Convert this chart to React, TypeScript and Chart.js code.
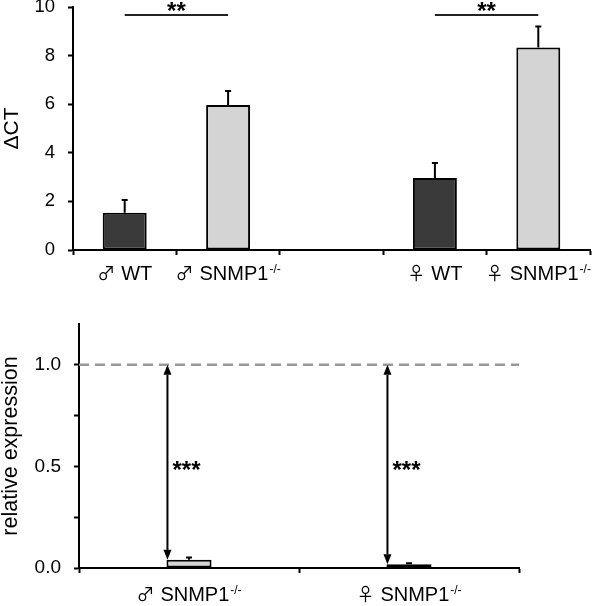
import { useEffect, useRef } from 'react';
import { Chart, registerables } from 'chart.js';

Chart.register(...registerables);

const FONT = "'Liberation Sans', Arial, sans-serif";
const SYMBOL_FONT = "'Noto Sans CJK SC', 'DejaVu Sans', sans-serif";

// ---- Top chart data (ΔCT) ----
const topCategories = ['♂ WT', '♂ SNMP1-/-', '', '♀ WT', '♀ SNMP1-/-'];
const topSymbols = ['♂', '♂', '', '♀', '♀'];
const topNames = ['WT', 'SNMP1', '', 'WT', 'SNMP1'];
const topSuperscripts = ['', '-/-', '', '', '-/-'];
const deltaCt = [1.53, 5.97, null, 2.96, 8.33];
const deltaCtErr = [0.53, 0.57, null, 0.62, 0.87];
const topBarColors = ['#3a3a3a', '#d4d4d4', '#d4d4d4', '#3a3a3a', '#d4d4d4'];
const topYTicks = [0, 2, 4, 6, 8, 10];
const topSigFrom = [0, 3];
const topSigTo = [1, 4];
const topSigLevel = [9.67, 9.67];
const topSigLabel = ['**', '**'];

// ---- Bottom chart data (relative expression) ----
const bottomCategories = ['♂ SNMP1-/-', '♀ SNMP1-/-'];
const bottomSymbols = ['♂', '♀'];
const bottomNames = ['SNMP1', 'SNMP1'];
const bottomSuperscripts = ['-/-', '-/-'];
const relExpression = [0.04, 0.018];
const relExpressionErr = [0.012, 0.005];
const bottomYTicks = [0, 0.25, 0.5, 0.75, 1.0];
const bottomYLabels = ['0.0', '', '0.5', '', '1.0'];
const referenceLevel = 1.0;
const bottomSigLabel = ['***', '***'];
const bottomSigLevel = [0.51, 0.51];

function drawXLabels(chart: any, symbols: string[], names: string[], sups: string[], offset: number) {
  const ctx = chart.ctx;
  const x = chart.scales.x;
  ctx.save();
  ctx.fillStyle = '#000';
  ctx.textBaseline = 'alphabetic';
  ctx.textAlign = 'left';
  names.forEach((name, i) => {
    if (!name) return;
    const cx = x.getPixelForValue(i);
    const symFont = `18px ${SYMBOL_FONT}`;
    const nameFont = `20px ${FONT}`;
    const supFont = `12px ${FONT}`;
    ctx.font = symFont;
    const ws = ctx.measureText(symbols[i]).width;
    const gap = 6;
    ctx.font = nameFont;
    const wn = ctx.measureText(name).width;
    ctx.font = supFont;
    const wp = sups[i] ? ctx.measureText(sups[i]).width + 1 : 0;
    const start = cx - (ws + gap + wn + wp) / 2;
    const base = chart.chartArea.bottom + offset;
    ctx.font = symFont;
    ctx.fillText(symbols[i], start, base);
    ctx.font = nameFont;
    ctx.fillText(name, start + ws + gap, base);
    if (sups[i]) {
      ctx.font = supFont;
      ctx.fillText(sups[i], start + ws + gap + wn + 1, base - 7);
    }
  });
  ctx.restore();
}

function drawErrorBars(chart: any, values: (number | null)[], errs: (number | null)[]) {
  const ctx = chart.ctx;
  const y = chart.scales.y;
  const meta = chart.getDatasetMeta(0);
  ctx.save();
  ctx.strokeStyle = '#000';
  ctx.lineWidth = 2;
  meta.data.forEach((bar: any, i: number) => {
    const v = values[i];
    const e = errs[i];
    if (v == null || e == null) return;
    const top = y.getPixelForValue(v);
    const et = y.getPixelForValue(v + e);
    ctx.beginPath();
    ctx.moveTo(bar.x, top);
    ctx.lineTo(bar.x, et);
    ctx.moveTo(bar.x - 3, et);
    ctx.lineTo(bar.x + 3, et);
    ctx.stroke();
  });
  ctx.restore();
}

const axisCommon = {
  border: { display: true, color: '#000', width: 2 },
  grid: {
    drawOnChartArea: false,
    drawTicks: true,
    tickLength: 5,
    tickColor: '#000',
    tickWidth: 2,
    color: '#000',
  },
};

export default function App() {
  const topRef = useRef<HTMLCanvasElement>(null);
  const bottomRef = useRef<HTMLCanvasElement>(null);

  useEffect(() => {
    const topPlugin = {
      id: 'topAnno',
      afterDatasetsDraw(chart: any) {
        drawErrorBars(chart, deltaCt, deltaCtErr);
        const ctx = chart.ctx;
        const x = chart.scales.x;
        const y = chart.scales.y;
        ctx.save();
        ctx.strokeStyle = '#222';
        ctx.lineWidth = 2;
        ctx.fillStyle = '#000';
        topSigFrom.forEach((f, k) => {
          const x1 = x.getPixelForValue(f);
          const x2 = x.getPixelForValue(topSigTo[k]);
          const yy = y.getPixelForValue(topSigLevel[k]);
          ctx.beginPath();
          ctx.moveTo(x1, yy);
          ctx.lineTo(x2, yy);
          ctx.stroke();
          ctx.font = `bold 24px ${FONT}`;
          ctx.textAlign = 'center';
          ctx.textBaseline = 'alphabetic';
          ctx.fillText(topSigLabel[k], (x1 + x2) / 2, yy + 4);
        });
        ctx.restore();
      },
      afterDraw(chart: any) {
        drawXLabels(chart, topSymbols, topNames, topSuperscripts, 30);
      },
    };

    const topChart = new Chart(topRef.current!, {
      type: 'bar',
      data: {
        labels: topCategories,
        datasets: [
          {
            data: deltaCt as any,
            backgroundColor: topBarColors,
            borderColor: '#000',
            borderWidth: 2,
            borderSkipped: false,
            barPercentage: 0.425,
            categoryPercentage: 1,
          },
        ],
      },
      options: {
        animation: false,
        responsive: false,
        maintainAspectRatio: false,
        layout: { padding: { top: 7, right: 6, left: 0, bottom: 0 } },
        plugins: { legend: { display: false }, tooltip: { enabled: false } },
        scales: {
          x: {
            ...axisCommon,
            ticks: { display: false },
            afterFit(scale: any) {
              scale.height = 40;
              scale.paddingLeft = 0;
              scale.paddingRight = 0;
            },
          },
          y: {
            ...axisCommon,
            min: 0,
            max: 10,
            afterBuildTicks(scale: any) {
              scale.ticks = topYTicks.map((v) => ({ value: v }));
            },
            ticks: {
              color: '#000',
              padding: 13,
              font: { family: FONT, size: 18.5 },
              callback: (v: any) => String(v),
            },
            title: {
              display: true,
              text: 'ΔCT',
              color: '#000',
              font: { family: FONT, size: 21 },
              padding: { top: 0, bottom: 0 },
            },
            afterFit(scale: any) {
              scale.width = 73;
              scale.paddingTop = 0;
              scale.paddingBottom = 0;
            },
          },
        },
      },
      plugins: [topPlugin],
    } as any);

    const bottomPlugin = {
      id: 'bottomAnno',
      beforeDatasetsDraw(chart: any) {
        const ctx = chart.ctx;
        const y = chart.scales.y;
        const yy = y.getPixelForValue(referenceLevel);
        ctx.save();
        ctx.strokeStyle = '#999';
        ctx.lineWidth = 2.5;
        ctx.setLineDash([10, 6]);
        ctx.beginPath();
        ctx.moveTo(chart.chartArea.left, yy);
        ctx.lineTo(chart.chartArea.right, yy);
        ctx.stroke();
        ctx.restore();
      },
      afterDatasetsDraw(chart: any) {
        drawErrorBars(chart, relExpression, relExpressionErr);
        const ctx = chart.ctx;
        const y = chart.scales.y;
        const meta = chart.getDatasetMeta(0);
        ctx.save();
        ctx.strokeStyle = '#000';
        ctx.fillStyle = '#000';
        ctx.lineWidth = 2;
        meta.data.forEach((bar: any, i: number) => {
          const ax = bar.x - bar.width / 2 + 1;
          const yTop = y.getPixelForValue(referenceLevel);
          const yBot = y.getPixelForValue(relExpression[i]);
          const hl = 10;
          const hw = 4;
          ctx.beginPath();
          ctx.moveTo(ax, yTop + hl);
          ctx.lineTo(ax, yBot - hl);
          ctx.stroke();
          ctx.beginPath();
          ctx.moveTo(ax, yTop);
          ctx.lineTo(ax - hw, yTop + hl);
          ctx.lineTo(ax + hw, yTop + hl);
          ctx.closePath();
          ctx.fill();
          ctx.beginPath();
          ctx.moveTo(ax, yBot);
          ctx.lineTo(ax - hw, yBot - hl);
          ctx.lineTo(ax + hw, yBot - hl);
          ctx.closePath();
          ctx.fill();
          ctx.font = `bold 24px ${FONT}`;
          ctx.textAlign = 'left';
          ctx.textBaseline = 'alphabetic';
          const ty = y.getPixelForValue(bottomSigLevel[i]);
          ctx.fillText(bottomSigLabel[i], ax + 5, ty + 14);
        });
        ctx.restore();
      },
      afterDraw(chart: any) {
        drawXLabels(chart, bottomSymbols, bottomNames, bottomSuperscripts, 33);
      },
    };

    const bottomChart = new Chart(bottomRef.current!, {
      type: 'bar',
      data: {
        labels: bottomCategories,
        datasets: [
          {
            data: relExpression,
            backgroundColor: '#d4d4d4',
            borderColor: '#000',
            borderWidth: 2,
            borderSkipped: false,
            barPercentage: 0.205,
            categoryPercentage: 1,
          },
        ],
      },
      options: {
        animation: false,
        responsive: false,
        maintainAspectRatio: false,
        layout: { padding: { top: 34, right: 77, left: 0, bottom: 0 } },
        plugins: { legend: { display: false }, tooltip: { enabled: false } },
        scales: {
          x: {
            ...axisCommon,
            ticks: { display: false },
            afterFit(scale: any) {
              scale.height = 38;
              scale.paddingLeft = 0;
              scale.paddingRight = 0;
            },
          },
          y: {
            ...axisCommon,
            min: 0,
            max: 1.2,
            afterBuildTicks(scale: any) {
              scale.ticks = bottomYTicks.map((v) => ({ value: v }));
            },
            ticks: {
              color: '#000',
              padding: 13,
              font: { family: FONT, size: 19 },
              callback: (_v: any, idx: number) => bottomYLabels[idx],
            },
            title: {
              display: true,
              text: 'relative expression',
              color: '#000',
              font: { family: FONT, size: 21.5, lineHeight: 1 },
              padding: { top: 0, bottom: 0 },
            },
            afterFit(scale: any) {
              scale.width = 79;
              scale.paddingTop = 0;
              scale.paddingBottom = 0;
            },
          },
        },
      },
      plugins: [bottomPlugin],
    } as any);

    return () => {
      topChart.destroy();
      bottomChart.destroy();
    };
  }, []);

  return (
    <div style={{ position: 'absolute', left: 0, top: 0, width: 596, height: 606, background: '#fff' }}>
      <canvas ref={topRef} width={596} height={290} style={{ display: 'block' }} />
      <canvas ref={bottomRef} width={596} height={316} style={{ display: 'block' }} />
    </div>
  );
}
